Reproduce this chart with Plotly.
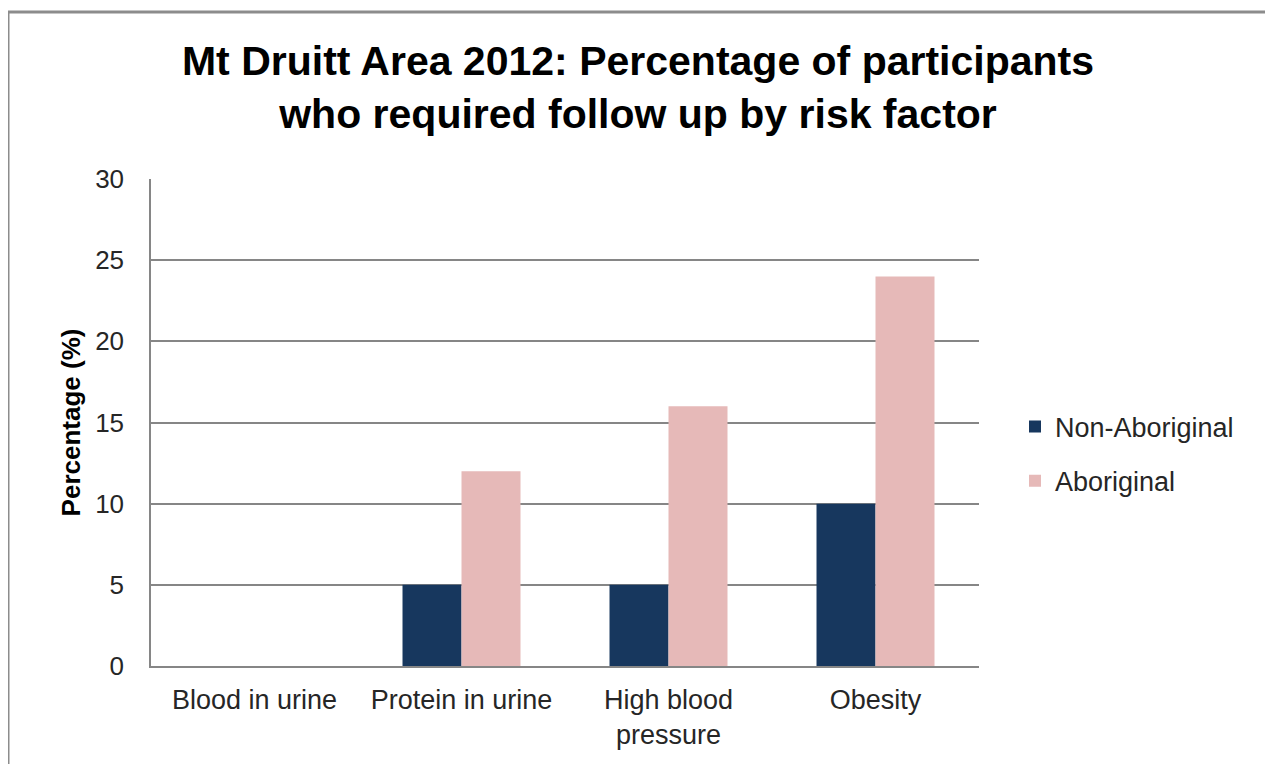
import plotly.graph_objects as go

categories = ["Blood in urine", "Protein in urine", "High blood<br>pressure", "Obesity"]
non_aboriginal = [0, 5, 5, 10]
aboriginal = [0, 12, 16, 24]
y_ticks = [0, 5, 10, 15, 20, 25, 30]

# page is rendered with an 8px body margin, so figure coords = page coords - 8
OFF = 8
W, H = 1273 - OFF, 764 - OFF
PL, PR, PT, PB = 151 - OFF, 979 - OFF, 179 - OFF, 666 - OFF
L, R, T, B = PL, W - PR, PT, H - PB
pw, ph = PR - PL, PB - PT

fig = go.Figure()
fig.add_trace(go.Bar(name="Non-Aboriginal", x=categories, y=non_aboriginal, legendgroup="n",
                     marker=dict(color="#17375E", line=dict(width=0))))
fig.add_trace(go.Bar(name="Aboriginal", x=categories, y=aboriginal, legendgroup="a",
                     marker=dict(color="#E6B9B8", line=dict(width=0))))

font = "Liberation Sans, Arial, sans-serif"
fig.update_layout(
    width=W, height=H,
    margin=dict(l=L, r=R, t=T, b=B, autoexpand=False),
    paper_bgcolor="white", plot_bgcolor="white",
    barmode="group", bargap=0.43, bargroupgap=0,
    font=dict(family=font, size=26, color="#262626"),
    title=dict(text="<b>Mt Druitt Area 2012: Percentage of participants<br>who required follow up by risk factor</b>",
               x=(638 - OFF) / W, xanchor="center", y=1 - (75 - OFF) / H, yanchor="middle",
               font=dict(family=font, size=41, color="black")),
    legend=dict(x=(1015 - OFF - L) / pw, xanchor="left", y=(666 - 454) / ph, yanchor="middle",
                font=dict(size=27, color="#262626"), itemwidth=30, tracegroupgap=16,
                traceorder="grouped"),
    showlegend=True,
)
fig.update_xaxes(showline=True, linecolor="#868686", linewidth=1.5, ticks="",
                 tickfont=dict(size=27), showgrid=False, ticklabelstandoff=9)
fig.update_yaxes(range=[0, 30], tickvals=y_ticks, showgrid=True, gridcolor="#868686", gridwidth=1.5,
                 showline=True, linecolor="#868686", linewidth=1.5, ticks="", ticklen=0,
                 zeroline=False, tickfont=dict(size=26), ticklabelstandoff=20,
                 title=dict(text="<b>Percentage (%)</b>", font=dict(size=26, color="black"), standoff=7))
fig.add_shape(type="rect", xref="paper", yref="paper",
              x0=(8 - OFF - L) / pw, x1=(1269 - OFF - L) / pw,
              y0=(PB - 800) / ph, y1=(PB - (12 - OFF)) / ph,
              line=dict(color="#8C8C8C", width=3), fillcolor="rgba(0,0,0,0)", layer="below")
fig.write_html("out.html")
